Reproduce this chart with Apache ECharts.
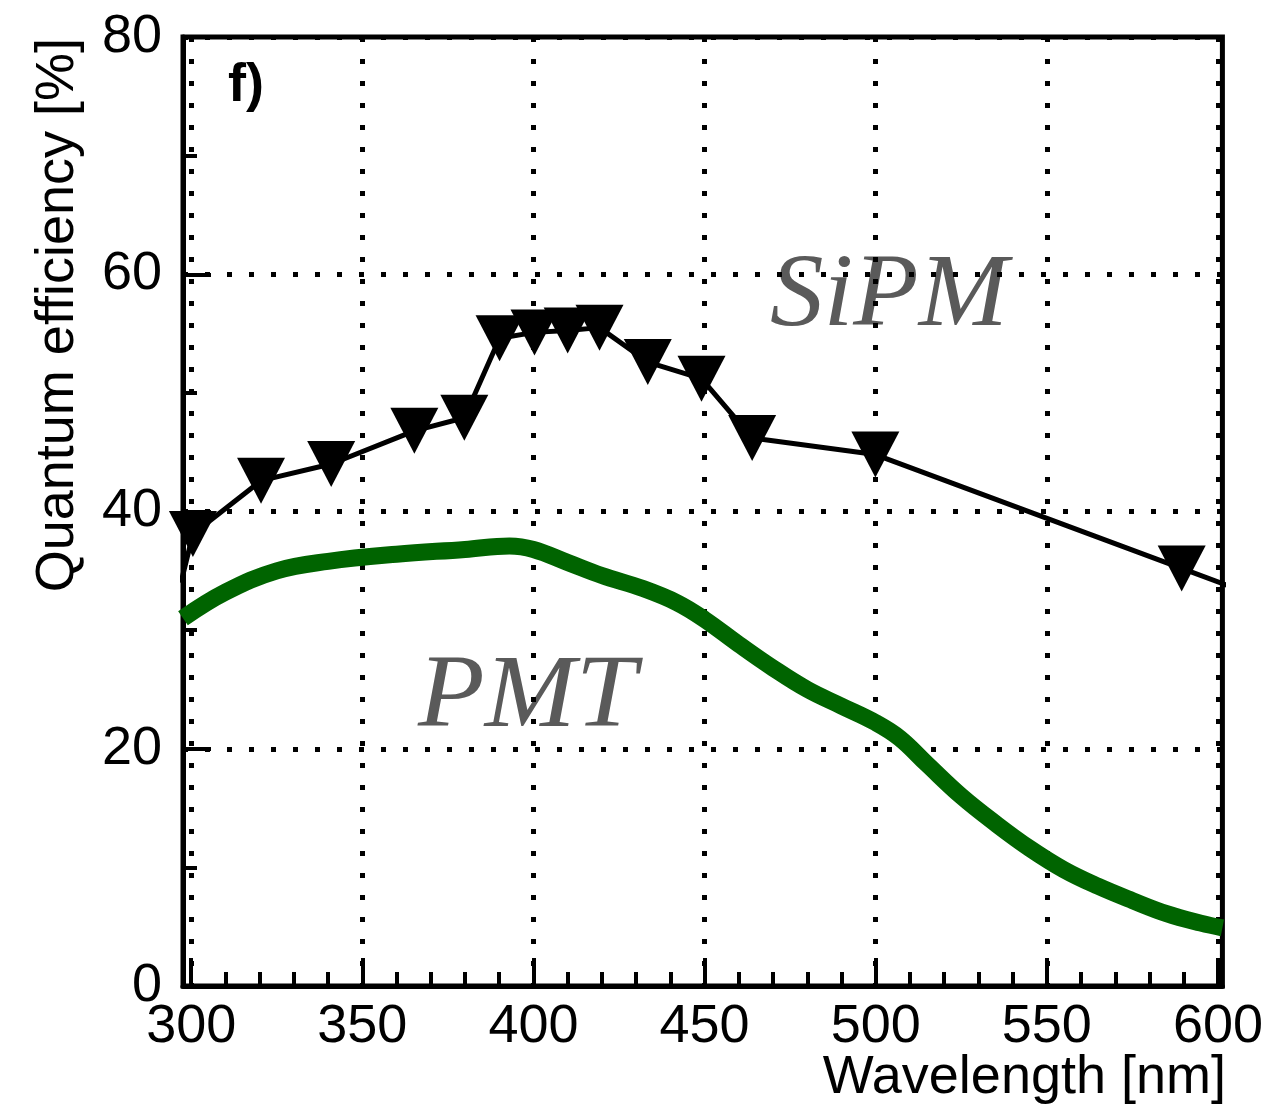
<!DOCTYPE html>
<html>
<head>
<meta charset="utf-8">
<script src="https://cdn.jsdelivr.net/npm/echarts@6/dist/echarts.min.js"></script>
<style>
html,body{margin:0;padding:0;background:#fff;}
#chart{width:1266px;height:1112px;}
</style>
</head>
<body>
<div id="chart"></div>
<script>
// ---- data ----
var xMajorTicks = [300, 350, 400, 450, 500, 550, 600];
var xMinorTicks = [310, 320, 330, 340, 360, 370, 380, 390, 410, 420, 430, 440,
                   460, 470, 480, 490, 510, 520, 530, 540, 560, 570, 580, 590];

// SiPM measured points (triangles)
var sipmWl = [300.5, 320.4, 340.9, 365.2, 379.8, 390.1, 400.3, 410.0, 419.3, 433.4, 449.1, 463.9, 499.9, 589.4];
var sipmQE = [38.1, 42.6, 44.0, 46.8, 47.9, 54.6, 55.1, 55.25, 55.5, 52.6, 51.2, 46.2, 44.8, 35.2];
// line continues past the frame on both sides (clipped)
var sipmEdgeWl = [297.0, 610.0];
var sipmEdgeQE = [34.0, 33.0];

// PMT curve
var pmtWl = [297.6, 310, 325, 340, 360, 380, 393, 400, 410, 420, 432, 442, 450, 460, 470, 480, 490,
             500, 507, 515, 525, 535, 545, 555, 565, 575, 585, 595, 601.3];
var pmtQE = [31.0, 33.2, 35.0, 35.8, 36.4, 36.8, 37.1, 36.8, 35.7, 34.6, 33.5, 32.3, 30.9, 28.8, 26.8, 25.0, 23.6,
             22.2, 20.9, 18.7, 16.0, 13.7, 11.6, 9.8, 8.4, 7.2, 6.1, 5.3, 4.9];

var xMin = 297.6, xMax = 601.3;
var yMin = 0, yMax = 80, yInterval = 20;

var FONT = "'Liberation Sans', Arial, sans-serif";
var SERIF = "'Liberation Serif', 'Times New Roman', serif";

function pairs(xs, ys) { return xs.map(function (x, i) { return [x, ys[i]]; }); }

var sipmLine = [[sipmEdgeWl[0], sipmEdgeQE[0]]].concat(pairs(sipmWl, sipmQE)).concat([[sipmEdgeWl[1], sipmEdgeQE[1]]]);

var dotted = { color: '#000', width: 5, type: [5, 17] };

var chart = echarts.init(document.getElementById('chart'), null, { renderer: 'canvas' });
chart.setOption({
  animation: false,
  backgroundColor: '#fff',
  grid: { left: 183, right: 40, top: 37, bottom: 126, show: true, borderColor: '#000', borderWidth: 5, backgroundColor: 'transparent' },
  xAxis: [{
    type: 'value', min: xMin, max: xMax,
    axisLine: { show: true, lineStyle: { color: '#000', width: 5 } },
    axisTick: { show: true, inside: true, length: 28, customValues: xMajorTicks, lineStyle: { color: '#000', width: 4 } },
    axisLabel: { show: true, customValues: xMajorTicks, margin: 14, color: '#000', fontSize: 54, fontFamily: FONT },
    splitLine: { show: true, lineStyle: dotted },
    minorTick: { show: false }
  }, {
    type: 'value', min: xMin, max: xMax, position: 'bottom',
    axisLine: { show: false },
    axisTick: { show: true, inside: true, length: 14, customValues: xMinorTicks, lineStyle: { color: '#000', width: 4 } },
    axisLabel: { show: false },
    splitLine: { show: false }
  }],
  yAxis: {
    type: 'value', min: yMin, max: yMax, interval: yInterval,
    axisLine: { show: true, lineStyle: { color: '#000', width: 5 } },
    axisTick: { show: true, inside: true, length: 28, lineStyle: { color: '#000', width: 4 } },
    minorTick: { show: true, splitNumber: 2, length: 14, lineStyle: { color: '#000', width: 4 } },
    axisLabel: { margin: 21, color: '#000', fontSize: 54, fontFamily: FONT },
    splitLine: { show: true, lineStyle: dotted }
  },
  graphic: [
    { type: 'text', x: 58, y: 38, rotation: Math.PI / 2,
      style: { text: 'Quantum efficiency [%]', font: "54px " + FONT, fill: '#000', align: 'right', verticalAlign: 'middle' } },
    { type: 'text', x: 1226, y: 1078,
      style: { text: 'Wavelength [nm]', font: "54px " + FONT, fill: '#000', align: 'right', verticalAlign: 'middle' } },
    { type: 'text', x: 228, y: 86,
      style: { text: 'f)', font: "bold 54px " + FONT, fill: '#000', align: 'left', verticalAlign: 'middle' } },
    { type: 'text', x: 770, y: 298, scaleX: 1.04,
      style: { text: 'SiPM', font: "italic 103px " + SERIF, fill: '#5a5a5a', align: 'left', verticalAlign: 'middle' } },
    { type: 'text', x: 418, y: 699, scaleX: 1.06,
      style: { text: 'PMT', font: "italic 103px " + SERIF, fill: '#5a5a5a', align: 'left', verticalAlign: 'middle' } }
  ],
  series: [{
    name: 'PMT', type: 'line', data: pairs(pmtWl, pmtQE), smooth: 0.4, showSymbol: false, symbol: 'none',
    lineStyle: { color: '#006400', width: 17 }, clip: true, z: 3
  }, {
    name: 'SiPM line', type: 'line', data: sipmLine, showSymbol: false, symbol: 'none',
    lineStyle: { color: '#000', width: 5 }, clip: true, z: 4
  }, {
    name: 'SiPM', type: 'scatter', data: pairs(sipmWl, sipmQE), symbol: 'triangle', symbolRotate: 180,
    symbolSize: [48, 46], itemStyle: { color: '#000', opacity: 1 }, clip: false, z: 5
  }]
});
</script>
</body>
</html>
